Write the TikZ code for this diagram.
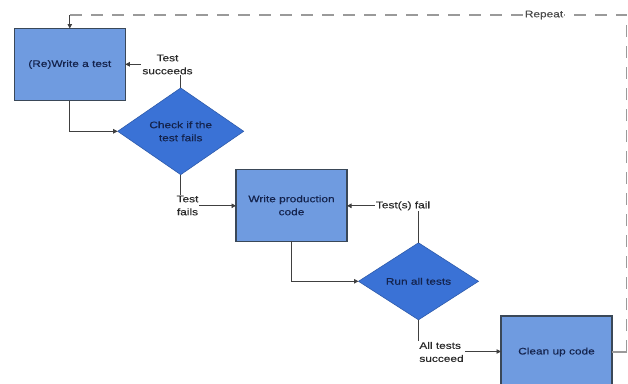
\documentclass[tikz,border=0pt]{standalone}
\usepackage{fontspec}
\setmainfont{Liberation Sans}[FakeStretch=1.25, FakeBold=0.35]
\usetikzlibrary{shapes.geometric,arrows.meta}

\definecolor{boxfill}{HTML}{6F9BE0}
\definecolor{diafill}{HTML}{3A72D6}
\definecolor{boxline}{HTML}{3A4858}
\definecolor{diatext}{HTML}{14234D}
\definecolor{labeltext}{HTML}{2A2A2A}
\definecolor{loopline}{HTML}{9A9A9A}

\tikzset{
  stepbox/.style={rectangle, draw=boxline, line width=1.1pt, fill=boxfill,
    minimum width=111pt, minimum height=72pt, inner sep=0pt, outer sep=0pt,
    text=diatext, align=center, font=\fontsize{9.5}{13}\selectfont},
  decision/.style={diamond, draw=diafill!80!black, line width=0.6pt, fill=diafill,
    minimum width=126pt, minimum height=77pt, inner sep=1pt, outer sep=0pt,
    text=diatext, align=center, font=\fontsize{9.5}{13}\selectfont},
  edgelabel/.style={fill=white, inner sep=1pt, text=labeltext, align=center,
    font=\fontsize{9.5}{13}\selectfont},
  flow/.style={draw=black!75, line width=0.8pt,
    -{Triangle[length=4.5pt,width=4.5pt]}},
  loop/.style={draw=loopline, line width=1.1pt, dash pattern=on 12pt off 9pt},
}

\begin{document}
\begin{tikzpicture}[x=1pt, y=-1pt]
  \useasboundingbox (0,0) rectangle (628,383);
  \clip (0,0) rectangle (628,383);

  % process steps
  \node[stepbox] (write) at (69.8,64.5) {(Re)Write a test};
  \node[decision] (check) at (180.7,131.3) {Check if the\\test fails};
  \node[stepbox] (prod) at (291.5,205.3) {Write production\\code};
  \node[decision, minimum width=120pt] (run) at (418.5,281.3) {Run all tests};
  \node[stepbox] (clean) at (556.5,352) {Clean up code};

  % corner points of the connectors
  \coordinate (cUp)   at (180.7,64.3);
  \coordinate (cDown) at (180.7,205.8);
  \coordinate (rUp)   at (418.5,205.8);
  \coordinate (rDown) at (418.5,351.5);

  % loop back to the start
  \coordinate (loopR)  at (626.5,352);
  \coordinate (loopTR) at (626.5,15);
  \coordinate (loopTL) at (69.8,15);

  \draw[flow] (write.south) |- (check.west);
  \draw[flow] (check.north) -- (cUp) -- (write.east |- cUp);
  \draw[flow] (check.south) -- (cDown) -- (prod.west |- cDown);
  \draw[flow] (run.north) -- (rUp) -- (prod.east |- rUp);
  \draw[flow] (prod.south) |- (run.west);
  \draw[flow] (run.south) -- (rDown) -- (clean.west |- rDown);

  \draw[draw=loopline, line width=1.1pt] (clean.east |- loopR) -- (loopR);
  \draw[loop] (loopR) -- (loopTR) -- (loopTL);
  \draw[draw=black!75, line width=0.8pt, -{Triangle[length=4.5pt,width=4.5pt]}]
    (loopTL) -- (write.north);

  % connector labels
  \node[edgelabel] (lSucc) at (167.5,64.5) {Test\\succeeds};
  \node[edgelabel] (lFail) at (187.5,205.5) {Test\\fails};
  \node[edgelabel] (lRunFail) at (403,205.8) {Test(s) fail};
  \node[edgelabel, align=left] (lAll) at (441.5,352) {All tests\\succeed};
  \node[edgelabel, text=black!70] (lRep) at (544,15) {Repeat};
\end{tikzpicture}
\end{document}
